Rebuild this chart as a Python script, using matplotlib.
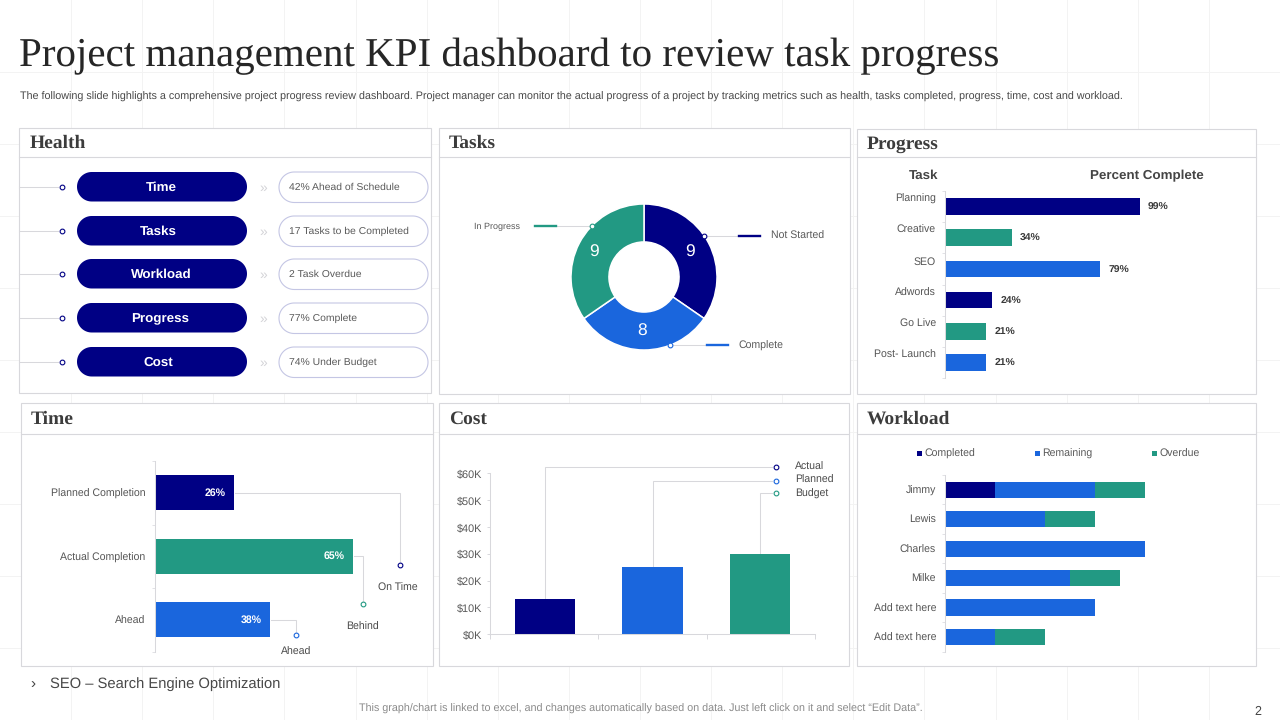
import numpy as np
import matplotlib
matplotlib.use("Agg")
import matplotlib.pyplot as plt
from matplotlib.patches import Rectangle, Polygon
from matplotlib.transforms import ScaledTranslation

NAVY, BLUE, TEAL = "#000084", "#1A66DD", "#229983"
LINE = "#D8D8DC"
SANS, SERIF = "Liberation Sans", "Liberation Serif"

title = "Project management KPI dashboard to review task progress"
subtitle = ("The following slide highlights a comprehensive project progress review dashboard. "
            "Project manager can monitor the actual progress of a project by tracking metrics such as "
            "health, tasks completed, progress, time, cost and workload.")
footnote = "SEO – Search Engine Optimization"
footer = "This graph/chart is linked to excel, and changes automatically based on data. Just left click on it and select “Edit Data”."

health_names = ["Time", "Tasks", "Workload", "Progress", "Cost"]
health_notes = ["42% Ahead of Schedule", "17 Tasks to be Completed", "2 Task Overdue", "77% Complete", "74% Under Budget"]

task_labels = ["Not Started", "Complete", "In Progress"]
task_values = [9, 8, 9]

progress_tasks = ["Planning", "Creative", "SEO", "Adwords", "Go Live", "Post- Launch"]
progress_pct = [99, 34, 79, 24, 21, 21]

time_labels = ["Planned Completion", "Actual Completion", "Ahead"]
time_pct = [26, 65, 38]
time_status = ["On Time", "Behind", "Ahead"]

cost_labels = ["Actual", "Planned", "Budget"]
cost_values = [13, 25, 30]
cost_ticks = [0, 10, 20, 30, 40, 50, 60]

work_names = ["Jimmy", "Lewis", "Charles", "Milke", "Add text here", "Add text here"]
work_completed = [2, 0, 0, 0, 0, 0]
work_remaining = [4, 4, 8, 5, 6, 2]
work_overdue = [2, 2, 0, 2, 0, 2]

W, H = 1280, 720
plt.rcParams["font.family"] = SANS
plt.rcParams["text.hinting"] = "none"
fig = plt.figure(figsize=(12.8, 7.2), dpi=100, facecolor="white")

bg = fig.add_axes([0, 0, 1, 1], zorder=0)
fg = fig.add_axes([0, 0, 1, 1], zorder=5)
for a in (bg, fg):
    a.set_xlim(0, W); a.set_ylim(H, 0); a.axis("off")


def px(v):
    return v * 0.72


def T(x, y, s, size=7.5, color="#555555", ha="left", weight="normal", family=SANS, va="center"):
    return fg.text(x, y + 2, s, fontsize=size, color=color, ha=ha, va=va, fontweight=weight, family=family)


def chart_axes(l, t, r, b):
    ax = fig.add_axes([l / W, 1 - b / H, (r - l) / W, (b - t) / H], zorder=2)
    ax.patch.set_alpha(0)
    for s in ("top", "right", "bottom"):
        ax.spines[s].set_visible(False)
    ax.spines["left"].set_color(LINE)
    ax.spines["left"].set_linewidth(0.75)
    return ax


def to_bg(ax, x, y):
    dx, dy = ax.transData.transform((x, y))
    return dx, H - dy


def marker(mx, my, color):
    fg.plot([mx], [my], "o", ms=3.4, mfc="white", mec=color, mew=0.8)


def leader(xs, ys, color=None, mx=None, my=None):
    bg.plot(xs, ys, color=LINE, lw=0.75, solid_joinstyle="miter", zorder=1)
    if color is not None:
        marker(mx, my, color)


def pill(l, t, r, b, **kw):
    rad = (b - t) / 2
    a = np.linspace(-np.pi / 2, np.pi / 2, 40)
    right = np.c_[r - rad + rad * np.cos(a), (t + b) / 2 + rad * np.sin(a)]
    left = np.c_[l + rad - rad * np.cos(a[::-1]), (t + b) / 2 + rad * np.sin(a[::-1])]
    bg.add_patch(Polygon(np.r_[right, left], closed=True, zorder=2, **kw))


def hbar_axes(ax, names, n):
    ax.set_ylim(n, 0)
    ax.set_yticks([i + 0.5 for i in range(n)], names)
    ax.set_yticks(range(n + 1), minor=True)
    ax.tick_params(axis="y", which="major", length=0, pad=px(9), labelsize=7.6, labelcolor="#555555")
    ax.tick_params(axis="y", which="minor", length=px(3), color="#E2E2E6", width=0.7)
    ax.set_xticks([])


# background grid
for i in range(1, 18):
    bg.axvline(i * 71.11, color="#F3F3F3", lw=0.72, zorder=0)
for i in range(1, 10):
    bg.axhline(i * 72, color="#F3F3F3", lw=0.72, zorder=0)

# titles
T(19, 54.5, title, size=29.5, color="#262626", family=SERIF)
T(20, 95, subtitle, size=7.77, color="#484848")
T(33, 682, "›", size=11, color="#444444", ha="center")
T(50, 682, footnote, size=10.6, color="#484848")
T(359, 707, footer, size=7.77, color="#8A8A8A")
T(1258, 710, "2", size=9, color="#444444", ha="center")

# panels
panels = [("Health", 19, 128, 431, 393, 157), ("Tasks", 439, 128, 850, 394, 157),
          ("Progress", 857, 129, 1256, 394, 157), ("Time", 21, 403, 433, 666, 434),
          ("Cost", 439, 403, 849, 666, 434), ("Workload", 857, 403, 1256, 666, 434)]
for name, l, t, r, b, hy in panels:
    bg.add_patch(Rectangle((l, t), r - l, b - t, fc="white", ec=LINE, lw=0.8, zorder=0.5))
    bg.plot([l, r], [hy, hy], color=LINE, lw=0.8, zorder=1)
    T(l + 10 + (1 if name == "Health" else 0), (t + hy) / 2 - 1, name, size=14, color="#3C3C3C", weight="bold", family=SERIF)

# Health
pill_tops = [172, 216, 259, 303, 347]
name_x = [161, 158.5, 161, 160.5, 158.5]
for nm, note, top, nx in zip(health_names, health_notes, pill_tops, name_x):
    cy = top + 15
    leader([19, 58], [cy, cy], NAVY, 62, cy)
    pill(77, top, 247, top + 29.5, fc=NAVY, ec="none")
    pill(279, top, 428, top + 30.5, fc="white", ec="#C4C6E4", lw=0.8)
    T(nx, cy - 1, nm, size=9.6, color="white", ha="center", weight="bold")
    T(263, cy - 1, "»", size=10, color="#D4D4D8", ha="center")
    T(289, cy - 1.5, note, size=7.5, color="#5A5A5A")

# Tasks donut
cx, cy, R = 644, 277, 73
ax = fig.add_axes([(cx - R) / W, 1 - (cy + R) / H, 2 * R / W, 2 * R / H], zorder=2)
wedges, texts = ax.pie(task_values, colors=[NAVY, BLUE, TEAL], startangle=90, counterclock=False, radius=1,
                       labels=task_values, labeldistance=0.74,
                       wedgeprops=dict(width=0.52, edgecolor="white", linewidth=1.1),
                       textprops=dict(color="white", fontsize=12.5, family=SANS))
for t_ in texts:
    t_.set_ha("center"); t_.set_va("center")
    x_, y_ = t_.get_position()
    t_.set_position((x_ - 0.025, y_ - 0.01))
ax.set_xlim(-1, 1); ax.set_ylim(-1, 1)

task_ends = [(703.5, 235.5, 739, 760, 771, 7.6), (670, 344.5, 707, 728, 738, 7.6), (592, 226, 556, 535, 474, 6.5)]
for lab, col, (mx, my, x0, x1, tx, fs) in zip(task_labels, [NAVY, BLUE, TEAL], task_ends):
    fg.plot([mx, x0], [my, my], color=LINE, lw=0.75)
    fg.plot([x0, x1], [my, my], color=col, lw=1.7)
    T(tx, my - 1, lab, size=fs, color="#5A5A5A")
    marker(mx, my, col)

# Progress
unit = 1.965
ax = chart_axes(945, 191, 1200, 378)
ax.set_xlim(0, (1200 - 945) / unit)
hbar_axes(ax, progress_tasks, 6)
ax.barh([i + 0.5 for i in range(6)], progress_pct, height=0.54, color=[NAVY, TEAL, BLUE] * 2)
for lab in ax.get_yticklabels():
    lab.set_transform(lab.get_transform() + ScaledTranslation(0, 8.5 / 100, fig.dpi_scale_trans))
for i, v in enumerate(progress_pct):
    ax.annotate(f"{v}%", (v, i + 0.5), xytext=(px(8), px(-1)), textcoords="offset points", va="center",
                fontsize=7.5, fontweight="bold", color="#3A3A3A")
T(938, 174, "Task", size=9.6, color="#444444", ha="right", weight="bold")
T(1090, 174, "Percent Complete", size=9.6, color="#444444", weight="bold")

# Time
ax = chart_axes(154.5, 461, 420, 651.7)
ax.set_xlim(0, (420 - 154.5) / 3.05)
hbar_axes(ax, time_labels, 3)
ax.barh([i + 0.5 for i in range(3)], time_pct, height=0.55, color=[NAVY, TEAL, BLUE])
for i, v in enumerate(time_pct):
    ax.annotate(f"{v}%", (v, i + 0.5), xytext=(px(-8.5), 0), textcoords="offset points", va="center", ha="right",
                fontsize=7.6, fontweight="bold", color="white")
time_ends = [(400, 565, 398, 586.5), (363, 604, 362, 625.5), (296, 635, 296, 650.5)]
for i, (v, col, st, (ex, ey, tx, ty)) in enumerate(zip(time_pct, [NAVY, TEAL, BLUE], time_status, time_ends)):
    sx, sy = to_bg(ax, v, i + 0.5)
    leader([sx + 1, ex, ex], [sy, sy, ey - 3], col, ex, ey)
    T(tx, ty, st, size=7.6, color="#4A4A4A", ha="center")

# Cost
ax = chart_axes(490, 473, 815, 634.3)
ax.set_xlim(0, 3); ax.set_ylim(0, 60)
xs = [0.505, 1.5, 2.495]
ax.bar(xs, cost_values, width=60 / 108.3, color=[NAVY, BLUE, TEAL])
ax.spines["bottom"].set_visible(True); ax.spines["bottom"].set_color(LINE); ax.spines["bottom"].set_linewidth(0.75)
ax.set_xticks(range(4), [""] * 4)
ax.tick_params(axis="x", length=px(5), color=LINE, width=0.7)
ax.set_yticks(cost_ticks, [f"${v}K" for v in cost_ticks])
ax.tick_params(axis="y", length=px(3), pad=px(5), color=LINE, width=0.7, labelsize=7.8, labelcolor="#5A5A5A")
cost_ends = [(467, 465.5), (481, 478.5), (493, 491.5)]
for x, v, lab, col, (ey, ty) in zip(xs, cost_values, cost_labels, [NAVY, BLUE, TEAL], cost_ends):
    sx, sy = to_bg(ax, x, v)
    leader([sx, sx, 772], [sy, ey, ey], col, 776, ey)
    T(795, ty, lab, size=7.6, color="#4A4A4A")

# Workload
ax = chart_axes(945, 475, 1200, 651.7)
ax.set_xlim(0, (1200 - 945) / 25)
hbar_axes(ax, work_names, 6)
ys = [i + 0.5 for i in range(6)]
ax.barh(ys, work_completed, height=0.55, color=NAVY)
ax.barh(ys, work_remaining, left=work_completed, height=0.55, color=BLUE)
lefts2 = [a + b for a, b in zip(work_completed, work_remaining)]
ax.barh(ys, work_overdue, left=lefts2, height=0.55, color=TEAL)
for x, lab, col in [(917, "Completed", NAVY), (1035, "Remaining", BLUE), (1152, "Overdue", TEAL)]:
    bg.add_patch(Rectangle((x, 450.5), 5, 5, fc=col, ec="none", zorder=2))
    T(x + 7.5, 452, lab, size=7.6, color="#5A5A5A")

fig.savefig("out.png", dpi=100)
